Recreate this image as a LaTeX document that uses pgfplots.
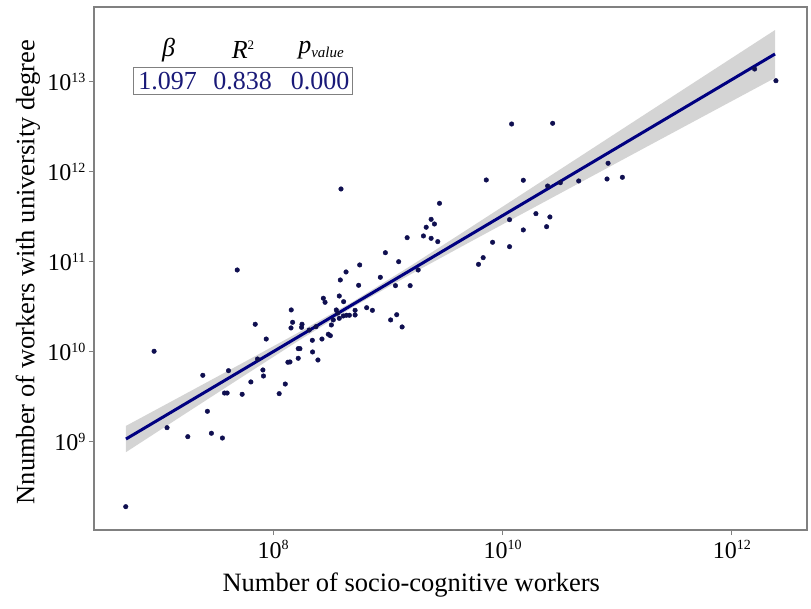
\documentclass[border=0pt]{standalone}
\usepackage{pgfplots}
\pgfplotsset{compat=1.18}
\usepackage{fontspec}
\setmainfont{Liberation Serif}
\definecolor{navyline}{RGB}{0,0,128}
\definecolor{navypt}{RGB}{15,15,80}
\definecolor{navytxt}{RGB}{25,25,120}
\definecolor{bandc}{RGB}{212,212,212}
\definecolor{framec}{RGB}{128,128,128}
\newcommand\tp[1]{10\raisebox{8.5pt}{\fontsize{14}{14}\selectfont #1}}
\pgfplotstableread{
x y
9.450 11.652
9.377 11.474
9.334 11.386
9.406 11.422
9.310 11.289
9.377 11.263
9.435 11.226
9.168 11.270
8.978 11.103
9.094 11.003
7.686 10.911
8.754 10.967
8.635 10.889
8.585 10.800
8.745 10.741
8.934 10.830
9.066 10.737
9.194 10.737
9.264 10.911
8.437 10.597
8.452 10.552
8.576 10.622
8.614 10.559
8.157 10.467
8.550 10.467
8.563 10.433
8.576 10.374
8.611 10.400
8.638 10.408
8.664 10.408
8.714 10.463
8.714 10.411
8.815 10.492
8.865 10.463
9.024 10.356
9.077 10.414
9.124 10.278
8.169 10.330
8.155 10.267
8.251 10.308
8.247 10.274
8.314 10.244
8.373 10.281
8.507 10.300
7.843 10.308
7.939 10.144
8.341 10.130
8.425 10.144
8.480 10.197
8.498 10.181
8.218 10.037
8.233 10.037
8.343 10.000
8.218 9.930
8.128 9.886
8.146 9.889
8.390 9.911
6.961 10.008
7.863 9.922
7.910 9.800
7.915 9.733
7.610 9.792
7.386 9.741
7.805 9.667
8.105 9.644
7.575 9.544
7.598 9.544
7.729 9.530
8.052 9.537
7.426 9.341
7.074 9.159
7.255 9.059
7.461 9.097
7.557 9.044
6.714 8.281
8.591 11.811
10.079 12.533
10.437 12.541
9.858 11.911
10.181 11.908
9.790 10.974
9.831 11.048
9.913 11.219
10.061 11.170
10.061 11.470
10.181 11.356
10.291 11.537
10.413 11.500
10.384 11.392
10.393 11.844
10.504 11.881
10.664 11.900
10.911 11.922
10.920 12.097
11.045 11.941
12.384 13.014
12.198 13.144
8.524 10.356
}\pts
\begin{document}
\begin{tikzpicture}[x=1pt,y=1pt]
\path (0,0) rectangle (811,608);
\begin{axis}[
  at={(94pt,78pt)}, anchor=south west,
  width=713pt, height=523pt, scale only axis,
  xmin=6.437, xmax=12.655, ymin=8.022, ymax=13.833,
  axis line style={framec, line width=1.2pt},
  tick style={framec, line width=1pt},
  tick align=outside, major tick length=5pt, tick pos=left,
  xtick={8,10,12}, xticklabels={\tp{8},\tp{10},\tp{12}},
  ytick={9,10,11,12,13}, yticklabels={\tp{9},\tp{10},\tp{11},\tp{12},\tp{13}},
  tick label style={font=\fontsize{24}{24}\selectfont},
  xticklabel style={yshift=-2pt},
  xlabel={Number of socio-cognitive workers},
  ylabel={Nnumber of workers with university degree},
  label style={font=\fontsize{26.5}{30}\selectfont},
  xlabel style={at={(axis description cs:0.445,0)}, anchor=center, yshift=-55pt},
  ylabel style={at={(axis description cs:-0.0926,0.493)}, anchor=center},
  clip=false,
]
\addplot[fill=bandc, draw=none] coordinates {
(6.716,9.179) (7.2,9.511) (7.7,9.855) (8.2,10.202) (8.7,10.563) (9.2,10.958)
(9.7,11.367) (10.2,11.779) (10.7,12.192) (11.2,12.606) (11.7,13.019) (12.376,13.577)
(12.376,13.045) (11.7,12.583) (11.2,12.241) (10.7,11.898) (10.2,11.555) (9.7,11.211)
(9.2,10.864) (8.7,10.503) (8.2,10.108) (7.7,9.699) (7.2,9.287) (6.716,8.887)
} -- cycle;
\addplot[only marks, mark=*, mark size=2.3pt, color=navypt] table {\pts};
\addplot[navyline, line width=3pt] coordinates {(6.716,9.033) (12.376,13.311)};
\end{axis}
\node[font=\fontsize{26}{26}\selectfont\itshape] at (168.5,558) {β};
\node[font=\fontsize{26}{26}\selectfont] at (243,558) {\textit{R}\raisebox{9pt}{\fontsize{13}{13}\selectfont 2}};
\node[font=\fontsize{26}{26}\selectfont] at (321,558) {\textit{p}\raisebox{-4pt}{\fontsize{15}{15}\selectfont\itshape value}};
\draw[framec, line width=1pt] (133,513) rectangle (352,540);
\node[font=\fontsize{26}{26}\selectfont, text=navytxt] at (167.5,527) {1.097};
\node[font=\fontsize{26}{26}\selectfont, text=navytxt] at (242.5,527) {0.838};
\node[font=\fontsize{26}{26}\selectfont, text=navytxt] at (320,527) {0.000};
\end{tikzpicture}
\end{document}
